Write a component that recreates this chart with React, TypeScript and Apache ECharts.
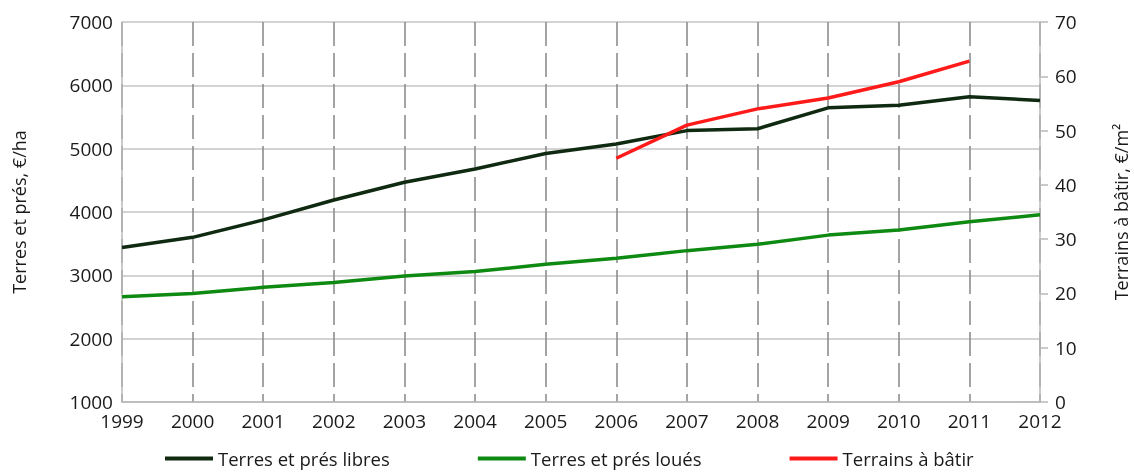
import React, { useEffect, useRef } from "react";
import * as echarts from "echarts";

const years = ["1999","2000","2001","2002","2003","2004","2005","2006","2007","2008","2009","2010","2011","2012"];
const libres = [3440, 3600, 3875, 4190, 4470, 4680, 4925, 5075, 5285, 5315, 5645, 5685, 5820, 5760];
const loues = [2660, 2715, 2810, 2885, 2990, 3060, 3175, 3270, 3390, 3490, 3635, 3715, 3845, 3955];
const batir = [null, null, null, null, null, null, null, 44.9, 51.0, 54.0, 56.0, 59.0, 62.8, null];

const FONT = "Open Sans";
const TXT = "#1a1a1a";

export default function App() {
  const ref = useRef<HTMLDivElement>(null);
  useEffect(() => {
    const chart = echarts.init(ref.current!, null, { renderer: "svg" });
    chart.setOption({
      animation: false,
      textStyle: { fontFamily: FONT, color: TXT },
      grid: { left: 122, right: 94, top: 22, bottom: 72, containLabel: false, outerBoundsMode: "none" },
      legend: {
        bottom: 1,
        left: 160,
        itemWidth: 48,
        itemHeight: 4,
        itemGap: 88,
        icon: "rect",
        textStyle: { fontFamily: FONT, fontSize: 18.5, color: TXT },
        data: ["Terres et prés libres", "Terres et prés loués", "Terrains à bâtir"],
      },
      xAxis: {
        type: "category",
        data: years,
        boundaryGap: false,
        axisLine: { show: true, lineStyle: { color: "#b8b8b8", width: 1.5 } },
        axisTick: { show: false },
        axisLabel: { fontFamily: FONT, fontSize: 19, lineHeight: 19, color: TXT, margin: 9 },
        splitLine: { show: true, lineStyle: { color: "#8e8e8e", type: [24, 7], width: 1.6 } },
      },
      yAxis: [
        {
          type: "value",
          min: 1000,
          max: 7000,
          interval: 1000,
          name: "Terres et prés, €/ha",
          nameLocation: "middle",
          nameGap: 94,
          nameTextStyle: { fontFamily: FONT, fontSize: 18, color: TXT },
          axisLine: { show: true, lineStyle: { color: "#b8b8b8", width: 1.5 } },
          axisTick: { show: false },
          axisLabel: { fontFamily: FONT, fontSize: 19, lineHeight: 14, color: TXT, margin: 9, formatter: (v: number) => String(v) },
          splitLine: { show: true, lineStyle: { color: "#c4c4c4", width: 1.5 } },
        },
        {
          type: "value",
          min: 0,
          max: 70,
          interval: 10,
          position: "right",
          name: "Terrains à bâtir, €/m²",
          nameLocation: "middle",
          nameGap: 72,
          nameTextStyle: { fontFamily: FONT, fontSize: 18, color: TXT },
          axisLine: { show: true, lineStyle: { color: "#b8b8b8", width: 1.5 } },
          axisTick: { show: true, length: 8, lineStyle: { color: "#b8b8b8", width: 1.5 } },
          axisLabel: { fontFamily: FONT, fontSize: 19, lineHeight: 14, color: TXT, margin: 15 },
          splitLine: { show: false },
        },
      ],
      series: [
        {
          name: "Terres et prés libres",
          type: "line",
          data: libres,
          yAxisIndex: 0,
          showSymbol: false,
          symbol: "none",
          color: "#0f2a10",
          lineStyle: { width: 3.5, color: "#0f2a10" },
        },
        {
          name: "Terres et prés loués",
          type: "line",
          data: loues,
          yAxisIndex: 0,
          showSymbol: false,
          symbol: "none",
          color: "#0e8a12",
          lineStyle: { width: 3.5, color: "#0e8a12" },
        },
        {
          name: "Terrains à bâtir",
          type: "line",
          data: batir,
          yAxisIndex: 1,
          showSymbol: false,
          symbol: "none",
          color: "#ff1a1a",
          lineStyle: { width: 3.5, color: "#ff1a1a" },
        },
      ],
    });
    return () => chart.dispose();
  }, []);
  return <div ref={ref} style={{ position: "fixed", left: 0, top: 0, width: 1134, height: 474 }} />;
}
